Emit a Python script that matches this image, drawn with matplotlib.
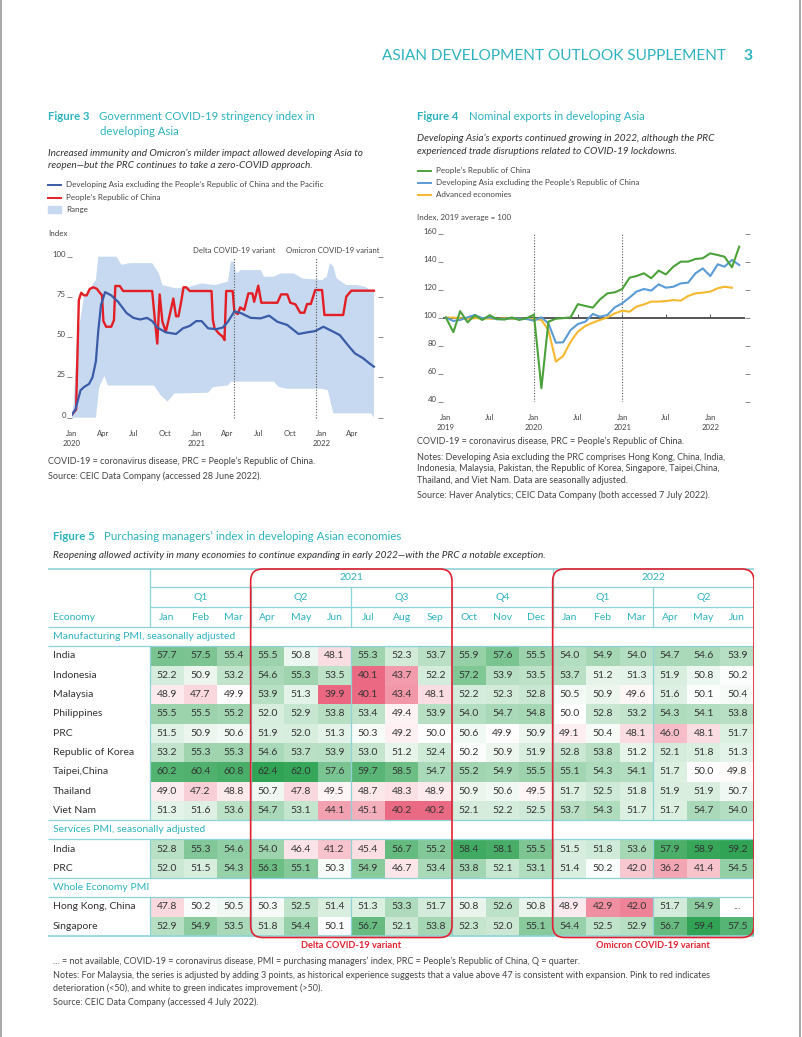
import numpy as np
import pandas as pd
import matplotlib
matplotlib.use("Agg")
import matplotlib.pyplot as plt
from matplotlib.patches import Rectangle, FancyBboxPatch
from matplotlib.lines import Line2D

plt.rcParams['font.family'] = ['Lato', 'DejaVu Sans']

TEAL = '#2db3bf'
TEAL_LINE = '#8fd3d8'
GRAY = '#444444'
RED = '#e3202f'

# ---------------- Figure 3 data: stringency index ----------------
dev_dates = ['2020-01-01', '2020-01-11', '2020-01-26', '2020-02-05', '2020-02-20', '2020-03-01',
             '2020-03-11', '2020-03-18', '2020-03-26', '2020-04-07', '2020-04-25', '2020-05-15',
             '2020-06-09', '2020-06-29', '2020-07-19', '2020-08-08', '2020-08-23', '2020-09-07',
             '2020-10-02', '2020-11-01', '2020-11-21', '2020-12-11', '2020-12-30', '2021-01-15',
             '2021-02-03', '2021-02-27', '2021-03-18', '2021-04-02', '2021-04-21', '2021-05-10',
             '2021-06-08', '2021-07-07', '2021-08-01', '2021-08-25', '2021-09-23', '2021-10-26',
             '2021-11-20', '2021-12-14', '2022-01-07', '2022-02-05', '2022-02-24', '2022-03-20',
             '2022-04-09', '2022-05-03', '2022-05-22', '2022-06-04']
dev_vals = [2, 5, 17, 19, 21, 25, 35, 54, 70, 78, 76, 72, 65, 62, 61, 62, 60, 56, 53, 52,
            55.5, 57, 60, 60, 55.5, 55, 56, 59.6, 66, 65, 62, 61.7, 63.4, 59.6, 57.6, 52, 53,
            53.8, 56.5, 53.4, 51.3, 45, 40, 37, 33.7, 31.7]

prc_dates = ['2020-01-01', '2020-01-13', '2020-01-21', '2020-01-28', '2020-02-05', '2020-02-13',
             '2020-02-22', '2020-03-04', '2020-03-14', '2020-03-21', '2020-03-29', '2020-04-02',
             '2020-04-10', '2020-04-25', '2020-05-03', '2020-05-07', '2020-05-20', '2020-05-30',
             '2020-08-23', '2020-08-31', '2020-09-07', '2020-09-14', '2020-09-22', '2020-10-02',
             '2020-10-10', '2020-10-24', '2020-11-01', '2020-11-08', '2020-11-16', '2020-11-23',
             '2020-12-01', '2020-12-11', '2021-02-13', '2021-02-17', '2021-02-22', '2021-03-06',
             '2021-03-18', '2021-03-23', '2021-03-28', '2021-04-16', '2021-04-21', '2021-05-01',
             '2021-05-08', '2021-05-20', '2021-06-01', '2021-06-13', '2021-06-18', '2021-06-30',
             '2021-07-09', '2021-08-25', '2021-09-05', '2021-09-23', '2021-10-02', '2021-10-17',
             '2021-10-31', '2021-11-12', '2021-11-20', '2021-12-01', '2021-12-14', '2022-01-03',
             '2022-01-10', '2022-03-06', '2022-03-15', '2022-03-30', '2022-06-04']
prc_vals = [2, 5, 73, 77.6, 76, 76, 80, 81, 80, 78, 76, 60, 56.5, 56.5, 60.6, 81.8, 81.8, 78.7,
            78.7, 60.6, 46, 76.6, 59.6, 53.4, 60.6, 74, 63, 63, 72, 81, 81, 78.7, 78.7, 60.6,
            55.5, 52.4, 50.3, 48.2, 78.7, 78.7, 65.8, 64.4, 68.5, 66.9, 77.2, 77.2, 72, 82, 71.4,
            71.4, 76.6, 76.6, 71.4, 70.4, 65.2, 65.2, 70.6, 70.6, 79.3, 79.3, 63.8, 63.8, 75.2,
            78.9, 78.9]

range_hi_dates = ['2020-01-01', '2020-01-06', '2020-01-16', '2020-02-05', '2020-03-11', '2020-03-18',
                  '2020-05-10', '2020-05-25', '2020-06-19', '2020-08-23', '2020-09-12', '2020-09-22',
                  '2020-11-01', '2020-12-11', '2021-01-15', '2021-02-22', '2021-04-02', '2021-04-11',
                  '2021-04-19', '2021-04-26', '2021-05-10', '2021-07-07', '2021-07-17', '2021-08-15',
                  '2021-09-03', '2021-10-12', '2021-11-06', '2022-01-03', '2022-01-17', '2022-01-26',
                  '2022-02-05', '2022-02-15', '2022-03-15', '2022-04-13', '2022-05-08', '2022-06-04']
range_hi = [2, 9, 48, 75, 85.5, 100, 100, 95, 96, 96, 89.6, 82.4, 80.3, 81.4, 83.4, 82.4, 84.5,
            97, 97, 89.6, 91.7, 91.7, 87.6, 87.6, 89.6, 89.6, 86.5, 85.5, 87.6, 96, 94, 86.5,
            82.4, 82.4, 81.4, 78]
range_lo_dates = ['2020-01-01', '2020-03-11', '2020-03-21', '2020-04-05', '2020-04-15', '2020-08-28',
                  '2020-09-17', '2020-10-07', '2020-10-27', '2021-02-03', '2021-02-17', '2021-04-02',
                  '2021-04-11', '2021-08-15', '2021-08-29', '2021-09-23', '2022-01-03', '2022-01-20',
                  '2022-02-05', '2022-05-27', '2022-06-04']
range_lo = [0, 0, 19, 26, 20, 20, 14, 10, 15, 15.5, 19, 20, 22.4, 22.4, 19, 18, 18, 17, 2.7, 2.7, 0]

f3_ticks = ['2020-01-01', '2020-04-01', '2020-07-01', '2020-10-01', '2021-01-01', '2021-04-01',
            '2021-07-01', '2021-10-01', '2022-01-01', '2022-04-01']
f3_ticklabels = ['Jan\n2020', 'Apr', 'Jul', 'Oct', 'Jan\n2021', 'Apr', 'Jul', 'Oct', 'Jan\n2022', 'Apr']
delta_date = '2021-04-20'
omicron_date = '2021-12-15'

# ---------------- Figure 4 data: nominal exports ----------------
exp_months = pd.date_range('2019-01-01', '2022-05-01', freq='MS')
prc_exports = [100.4, 90, 105, 97, 102, 98.7, 102, 99.4, 99, 100.5, 98.7, 99.9,
               102.5, 50, 97.5, 99.6, 100, 100.6, 110, 108.7, 107.5, 113.4, 117.7, 118.4,
               120.8, 128.9, 130, 132, 128.4, 133.9, 131.2, 136.7, 140.3, 140.3, 142.2, 142.7,
               146.2, 145, 143.8, 136.2, 151]
devasia_exports = [100.4, 98, 98.7, 100.6, 102.3, 99.9, 100.6, 99.2, 99.4, 99.9, 99.6, 99.4,
                   98.2, 100.6, 96.3, 82.5, 82.8, 91.5, 95.8, 97.5, 103, 101, 102.3, 107.7,
                   110.6, 114.8, 118.9, 120.8, 119.6, 124.1, 121.7, 122.4, 124.8, 125.3, 132, 135.5,
                   130, 138.4, 136.7, 141.5, 137.9]
adv_exports = [100.4, 100.4, 99.9, 99.6, 100, 99.9, 99.6, 99.4, 99.9, 99.4, 99.6, 99.4,
               99.4, 98.7, 91.5, 69, 73, 83.2, 90.4, 94.4, 96.8, 98.7, 100.6, 103.4,
               105.3, 104.6, 108.2, 109.8, 111.8, 111.8, 112.2, 112.9, 112.5, 115.8, 117.7, 118.2,
               118.9, 121.3, 122.4, 121.7]
f4_ticks = ['2019-01-01', '2019-07-01', '2020-01-01', '2020-07-01', '2021-01-01', '2021-07-01', '2022-01-01']
f4_ticklabels = ['Jan\n2019', 'Jul', 'Jan\n2020', 'Jul', 'Jan\n2021', 'Jul', 'Jan\n2022']
f4_marks = ['2020-01-01', '2021-01-01']

# ---------------- Figure 5 data: PMI table ----------------
months = ['Jan', 'Feb', 'Mar', 'Apr', 'May', 'Jun', 'Jul', 'Aug', 'Sep',
          'Oct', 'Nov', 'Dec', 'Jan', 'Feb', 'Mar', 'Apr', 'May', 'Jun']
quarters = ['Q1', 'Q2', 'Q3', 'Q4', 'Q1', 'Q2']
years = ['2021', '2022']
year_months = [12, 6]

mfg_names = ['India', 'Indonesia', 'Malaysia', 'Philippines', 'PRC', 'Republic of Korea',
             'Taipei,China', 'Thailand', 'Viet Nam']
mfg = [
    [57.7, 57.5, 55.4, 55.5, 50.8, 48.1, 55.3, 52.3, 53.7, 55.9, 57.6, 55.5, 54.0, 54.9, 54.0, 54.7, 54.6, 53.9],
    [52.2, 50.9, 53.2, 54.6, 55.3, 53.5, 40.1, 43.7, 52.2, 57.2, 53.9, 53.5, 53.7, 51.2, 51.3, 51.9, 50.8, 50.2],
    [48.9, 47.7, 49.9, 53.9, 51.3, 39.9, 40.1, 43.4, 48.1, 52.2, 52.3, 52.8, 50.5, 50.9, 49.6, 51.6, 50.1, 50.4],
    [55.5, 55.5, 55.2, 52.0, 52.9, 53.8, 53.4, 49.4, 53.9, 54.0, 54.7, 54.8, 50.0, 52.8, 53.2, 54.3, 54.1, 53.8],
    [51.5, 50.9, 50.6, 51.9, 52.0, 51.3, 50.3, 49.2, 50.0, 50.6, 49.9, 50.9, 49.1, 50.4, 48.1, 46.0, 48.1, 51.7],
    [53.2, 55.3, 55.3, 54.6, 53.7, 53.9, 53.0, 51.2, 52.4, 50.2, 50.9, 51.9, 52.8, 53.8, 51.2, 52.1, 51.8, 51.3],
    [60.2, 60.4, 60.8, 62.4, 62.0, 57.6, 59.7, 58.5, 54.7, 55.2, 54.9, 55.5, 55.1, 54.3, 54.1, 51.7, 50.0, 49.8],
    [49.0, 47.2, 48.8, 50.7, 47.8, 49.5, 48.7, 48.3, 48.9, 50.9, 50.6, 49.5, 51.7, 52.5, 51.8, 51.9, 51.9, 50.7],
    [51.3, 51.6, 53.6, 54.7, 53.1, 44.1, 45.1, 40.2, 40.2, 52.1, 52.2, 52.5, 53.7, 54.3, 51.7, 51.7, 54.7, 54.0],
]
svc_names = ['India', 'PRC']
svc = [
    [52.8, 55.3, 54.6, 54.0, 46.4, 41.2, 45.4, 56.7, 55.2, 58.4, 58.1, 55.5, 51.5, 51.8, 53.6, 57.9, 58.9, 59.2],
    [52.0, 51.5, 54.3, 56.3, 55.1, 50.3, 54.9, 46.7, 53.4, 53.8, 52.1, 53.1, 51.4, 50.2, 42.0, 36.2, 41.4, 54.5],
]
whole_names = ['Hong Kong, China', 'Singapore']
whole = [
    [47.8, 50.2, 50.5, 50.3, 52.5, 51.4, 51.3, 53.3, 51.7, 50.8, 52.6, 50.8, 48.9, 42.9, 42.0, 51.7, 54.9, np.nan],
    [52.9, 54.9, 53.5, 51.8, 54.4, 50.1, 56.7, 52.1, 53.8, 52.3, 52.0, 55.1, 54.4, 52.5, 52.9, 56.7, 59.4, 57.5],
]

# ================= page =================
W, H = 802, 1037
fig = plt.figure(figsize=(W / 100, H / 100), dpi=100)


def fx(px):
    return px / W


def fy(py):
    return 1 - py / H


def ftext(x, y, s, **kw):
    kw.setdefault('va', 'center')
    kw.setdefault('color', GRAY)
    fig.text(fx(x), fy(y), s, **kw)


fig.add_artist(Line2D([fx(1), fx(1)], [0, 1], color='#9a9a9a', lw=1.2))
fig.add_artist(Line2D([fx(800), fx(800)], [0, 1], color='#9a9a9a', lw=1.2))

ftext(726, 56, 'ASIAN DEVELOPMENT OUTLOOK SUPPLEMENT', ha='right', fontsize=11.1, color=TEAL)
ftext(743, 56, '3', ha='left', fontsize=11.3, color=TEAL, fontweight='bold')

SUB = 7.2
LEG = 5.75
NOTE = 6.5
TICK = 5.6

# ---------- Figure 3 ----------
ftext(48, 117, 'Figure 3', fontsize=8.2, color=TEAL, fontweight='bold')
ftext(99, 117, 'Government COVID-19 stringency index in', fontsize=8.2, color=TEAL)
ftext(100, 131.5, 'developing Asia', fontsize=8.2, color=TEAL)
ftext(48, 153, "Increased immunity and Omicron\u2019s milder impact allowed developing Asia to",
      fontsize=SUB, style='italic', color='#333333')
ftext(48, 166, "reopen\u2014but the PRC continues to take a zero-COVID approach.",
      fontsize=SUB, style='italic', color='#333333')
fig.add_artist(Line2D([fx(48), fx(61)], [fy(185), fy(185)], color='#3a5ba8', lw=1.4))
fig.add_artist(Line2D([fx(48), fx(61)], [fy(197.5), fy(197.5)], color='#e31e24', lw=1.4))
fig.add_artist(Rectangle((fx(48), fy(212.5)), fx(13), 6.5 / H, color='#c6d9f0', transform=fig.transFigure))
ftext(66, 185, "Developing Asia excluding the People\u2019s Republic of China and the Pacific", fontsize=LEG)
ftext(66, 197.5, "People\u2019s Republic of China", fontsize=LEG)
ftext(66, 209.5, "Range", fontsize=LEG)
ftext(48, 234, 'Index', fontsize=LEG)

# axes: y 100 at 256.7px, 0 at 417.7px; x from Jan 2020 (72px)
y0, y1 = -2, 102
ppu = (417.7 - 256.7) / 100
top = 256.7 - (y1 - 100) * ppu
bot = 417.7 + (0 - y0) * ppu
ax3 = fig.add_axes([fx(72), fy(bot), fx(378 - 72), (bot - top) / H])
hi_d = pd.to_datetime(range_hi_dates)
lo_d = pd.to_datetime(range_lo_dates)
ax3.fill(np.concatenate([hi_d.values, lo_d.values[::-1]]),
         np.concatenate([range_hi, range_lo[::-1]]), color='#c6d9f0', lw=0)
ax3.plot(pd.to_datetime(prc_dates), prc_vals, color='#e31e24', lw=1.7, zorder=3)
ax3.plot(pd.to_datetime(dev_dates), dev_vals, color='#3a5ba8', lw=1.6, zorder=4)
for d in [delta_date, omicron_date]:
    ax3.axvline(pd.Timestamp(d), ymin=0.02, ymax=0.98, color='#555555', lw=0.8, ls=(0, (1, 1.5)), zorder=5)
ax3.text(pd.Timestamp(delta_date), 104, 'Delta COVID-19 variant', ha='center', va='center',
         fontsize=TICK, color=GRAY, clip_on=False)
ax3.annotate('Omicron COVID-19 variant', (pd.Timestamp(omicron_date), 104), xytext=(-21.5, 0),
             textcoords='offset points', ha='left', va='center', fontsize=TICK, color=GRAY,
             annotation_clip=False)
ax3.set_xlim(pd.Timestamp('2020-01-01'), pd.Timestamp('2022-06-16'))
ax3.set_ylim(y0, y1)
for s in ax3.spines.values():
    s.set_visible(False)
ax3.set_xticks(pd.to_datetime(f3_ticks))
ax3.set_xticklabels(f3_ticklabels, fontsize=TICK, color=GRAY, linespacing=1.45)
ax3.tick_params(axis='x', length=0, pad=6.5)
ax3.set_yticks([0, 25, 50, 75, 100])
ax3.tick_params(axis='y', which='both', left=True, right=True, labelleft=True, direction='out',
                length=3.5, width=0.6, color='#777777', labelsize=TICK, labelcolor=GRAY, pad=1)
for t in ax3.get_yticklabels():
    t.set_va('baseline')
ftext(48, 461, 'COVID-19 = coronavirus disease, PRC = People\u2019s Republic of China.', fontsize=NOTE)
ftext(48, 476.5, 'Source: CEIC Data Company (accessed 28 June 2022).', fontsize=NOTE)

# ---------- Figure 4 ----------
ftext(417, 117, 'Figure 4', fontsize=8.2, color=TEAL, fontweight='bold')
ftext(469, 117, 'Nominal exports in developing Asia', fontsize=8.2, color=TEAL)
ftext(417, 138, "Developing Asia\u2019s exports continued growing in 2022, although the PRC",
      fontsize=SUB, style='italic', color='#333333')
ftext(417, 151, "experienced trade disruptions related to COVID-19 lockdowns.",
      fontsize=SUB, style='italic', color='#333333')
for yy, c, lab in [(170.5, '#4ba23a', "People\u2019s Republic of China"),
                   (182.5, '#5b9bd5', "Developing Asia excluding the People\u2019s Republic of China"),
                   (194.5, '#f5b82e', "Advanced economies")]:
    fig.add_artist(Line2D([fx(418), fx(431)], [fy(yy), fy(yy)], color=c, lw=1.4))
    ftext(436, yy, lab, fontsize=LEG)
ftext(417, 217, 'Index, 2019 average = 100', fontsize=LEG)

ax4 = fig.add_axes([fx(443), fy(402.3), fx(745 - 443), (402.3 - 234) / H])
ax4.axhline(100, color='#555555', lw=1.4, zorder=1)
ax4.vlines(pd.to_datetime(f4_ticks[1:]), 100, 102.8, color='#555555', lw=0.7, zorder=1)
for d in f4_marks:
    ax4.axvline(pd.Timestamp(d), color='#555555', lw=0.8, ls=(0, (1, 1.5)), zorder=2)
ax4.plot(exp_months[:len(adv_exports)], adv_exports, color='#f5b82e', lw=1.5, zorder=3)
ax4.plot(exp_months, devasia_exports, color='#5b9bd5', lw=1.5, zorder=4)
ax4.plot(exp_months, prc_exports, color='#4ba23a', lw=1.5, zorder=5)
ax4.set_xlim(pd.Timestamp('2018-12-20'), pd.Timestamp('2022-05-25'))
ax4.set_ylim(40, 160)
for s in ax4.spines.values():
    s.set_visible(False)
ax4.set_xticks(pd.to_datetime(f4_ticks))
ax4.set_xticklabels(f4_ticklabels, fontsize=TICK, color=GRAY, linespacing=1.45)
ax4.tick_params(axis='x', length=0, pad=8.5)
ax4.set_yticks([40, 60, 80, 100, 120, 140, 160])
ax4.tick_params(axis='y', which='both', left=True, right=True, direction='out',
                length=3.5, width=0.6, color='#777777', labelsize=TICK, labelcolor=GRAY, pad=1)
for t in ax4.get_yticklabels():
    t.set_va('baseline')
notes4 = ['COVID-19 = coronavirus disease, PRC = People\u2019s Republic of China.',
          'Notes: Developing Asia excluding the PRC comprises Hong Kong, China, India,',
          'Indonesia, Malaysia, Pakistan, the Republic of Korea, Singapore, Taipei,China,',
          'Thailand, and Viet Nam. Data are seasonally adjusted.',
          'Source: Haver Analytics; CEIC Data Company (both accessed 7 July 2022).']
for yy, s in zip([441.5, 457, 468.5, 480.5, 495], notes4):
    ftext(417, yy, s, fontsize=NOTE)

# ---------- Figure 5 ----------
ftext(53, 537, 'Figure 5', fontsize=8.3, color=TEAL, fontweight='bold')
ftext(104, 537, 'Purchasing managers\u2019 index in developing Asian economies', fontsize=8.3, color=TEAL)
ftext(53, 556, 'Reopening allowed activity in many economies to continue expanding in early 2022\u2014with the PRC a notable exception.',
      fontsize=SUB, style='italic', color='#333333')

# table axes in page-pixel units
axt = fig.add_axes([fx(48), fy(940), fx(754 - 48), (940 - 565) / H])
axt.set_xlim(48, 754)
axt.set_ylim(940, 565)
axt.axis('off')

TF = 7.5
x0, cw = 150, (754 - 150) / 18
rh = 19.33
sections = [('Manufacturing PMI, seasonally adjusted', mfg_names, mfg, 39.9, 62.4),
            ('Services PMI, seasonally adjusted', svc_names, svc, 25.0, 59.2),
            ('Whole Economy PMI', whole_names, whole, 40.0, 59.4)]
g_end = np.array([0.19, 0.64, 0.33])
r_end = np.array([0.92, 0.40, 0.50])
white = np.array([1.0, 1.0, 1.0])


def cell_color(v, lo, hi):
    if np.isnan(v):
        return white
    if v >= 50:
        t = min((v - 50) / (hi - 50), 1)
        return white + (g_end - white) * t ** 0.9
    t = min((50 - v) / (50 - lo), 1)
    return white + (r_end - white) * t ** 0.9


def hline(y, xa=48, xb=754, lw=0.9):
    axt.plot([xa, xb], [y, y], color=TEAL_LINE, lw=lw, solid_capstyle='butt', zorder=3)


def vline(x, ya, yb):
    axt.plot([x, x], [ya, yb], color=TEAL_LINE, lw=0.9, zorder=3)


qbounds = [x0 + cw * k for k in (3, 6, 9, 12, 15)]
# header
hline(569, lw=1.2)
hline(587, xa=x0)
hline(607, xa=x0)
hline(627)
vline(x0, 569, 627)
vline(x0 + cw * 12, 569, 627)
for qb in qbounds:
    vline(qb, 587, 627)
start = 0
for yr, n in zip(years, year_months):
    axt.text(x0 + cw * (start + n / 2), 578, yr, ha='center', va='center', fontsize=TF, color=TEAL)
    start += n
for k, q in enumerate(quarters):
    axt.text(x0 + cw * (3 * k + 1.5), 597.5, q, ha='center', va='center', fontsize=TF, color=TEAL)
for k, m in enumerate(months):
    axt.text(x0 + cw * (k + 0.5), 617.5, m, ha='center', va='center', fontsize=TF, color=TEAL)
axt.text(53, 617.5, 'Economy', ha='left', va='center', fontsize=TF, color=TEAL)

y = 627
for title, names, vals, lo, hi in sections:
    axt.text(53, y + 9.7, title, ha='left', va='center', fontsize=TF, color=TEAL)
    y += 19.2
    hline(y)
    ys = y
    for r, (nm, row) in enumerate(zip(names, vals)):
        for c, v in enumerate(row):
            axt.add_patch(Rectangle((x0 + cw * c, y), cw, rh, facecolor=cell_color(v, lo, hi),
                                    edgecolor='none', zorder=1))
            axt.text(x0 + cw * (c + 0.5), y + rh / 2, '...' if np.isnan(v) else f'{v:.1f}',
                     ha='center', va='center', fontsize=TF, color='#333333', zorder=4)
        axt.text(53, y + rh / 2, nm, ha='left', va='center', fontsize=TF, color='#333333')
        y += rh
    vline(x0, ys, y)
    for qb in qbounds:
        vline(qb, ys, y)
    hline(y, lw=1.2 if title == sections[-1][0] else 0.9)

# COVID variant boxes
for k0, lab in [(3, 'Delta COVID-19 variant'), (12, 'Omicron COVID-19 variant')]:
    axt.add_patch(FancyBboxPatch((x0 + cw * k0, 569), cw * 6, 937.5 - 569,
                                 boxstyle='round,pad=0,rounding_size=12', fill=False,
                                 edgecolor=RED, lw=1.2, zorder=6))
    axt.text(x0 + cw * (k0 + 3), 945.5, lab, ha='center', va='center', fontsize=6.7,
             color=RED, fontweight='bold', clip_on=False)

notes5 = ['\u2026 = not available, COVID-19 = coronavirus disease, PMI = purchasing managers\u2019 index, PRC = People\u2019s Republic of China, Q = quarter.',
          'Notes: For Malaysia, the series is adjusted by adding 3 points, as historical experience suggests that a value above 47 is consistent with expansion. Pink to red indicates',
          'deterioration (<50), and white to green indicates improvement (>50).',
          'Source: CEIC Data Company (accessed 4 July 2022).']
for yy, s in zip([961, 976, 988, 1002], notes5):
    ftext(53, yy, s, fontsize=NOTE)

fig.savefig('out.png', dpi=100)
